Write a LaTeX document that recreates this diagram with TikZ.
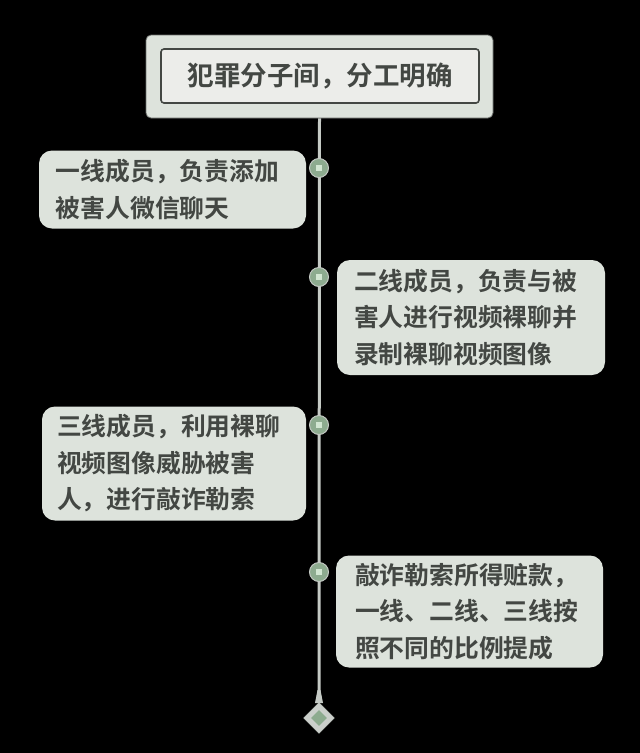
\documentclass[tikz,border=0pt]{standalone}
\usepackage{fontspec}
\newfontfamily\cjk{Noto Sans CJK SC}[BoldFont={* Bold}]
\usetikzlibrary{shapes.geometric}
\definecolor{boxfill}{HTML}{DDE3DC}
\definecolor{innerfill}{HTML}{ECEDEA}
\definecolor{txt}{HTML}{434743}
\definecolor{linec}{HTML}{C5CAC5}
\definecolor{dotc}{HTML}{8DAB8F}
\definecolor{dotin}{HTML}{D2E6D2}
\tikzset{
  stepbox/.style={fill=boxfill, draw=none, rounded corners=13pt, inner xsep=17pt, inner ysep=0pt,
    align=left, text=txt, font=\cjk\bfseries\fontsize{24.8}{36.5}\selectfont, anchor=center},
  dotnode/.style={circle, fill=dotc, draw=linec, line width=1pt, minimum size=19pt, inner sep=0pt},
  dotinner/.style={rectangle, fill=dotin, minimum size=6pt, inner sep=0pt},
}
\begin{document}
\begin{tikzpicture}[x=1pt,y=-1pt]
\fill[black] (0,0) rectangle (640,753);
\useasboundingbox (0,0) rectangle (640,753);
% title
\node[fill=boxfill, draw=txt!80, line width=0.8pt, rounded corners=5pt, minimum width=347pt, minimum height=83pt, inner sep=0pt] (title) at (319.5,76.5) {};
\node[fill=innerfill, draw=txt, line width=1.6pt, rounded corners=3pt, minimum width=318pt, minimum height=54pt, inner sep=0pt,
  text=txt, font=\cjk\bfseries\fontsize{26.5}{30}\selectfont] (titlein) at (320,76) {犯罪分子间，分工明确};
% vertical line
\coordinate (taper) at (319,692);
\draw[linec, line width=3pt] (title.south) -- (taper);
\fill[linec] (317.5,690) -- (320.5,690) -- (323,703) -- (315,703) -- cycle;
% diamond end
\node[diamond, fill=linec!90!white, draw=linec, minimum size=31pt, inner sep=0pt] (enddia) at (319,718) {};
\node[diamond, fill=dotc, minimum size=16pt, inner sep=0pt] (enddiain) at (319,718) {};
% dots
\foreach \n/\y in {d1/168, d2/277, d3/425, d4/572}{
  \node[dotnode] (\n) at (319,\y) {};
  \node[dotinner] (\n in) at (319,\y) {};
}
% boxes
\node[stepbox, text width=233pt, minimum height=78pt] (b1) at (172.5,189.5) {一线成员，负责添加\\被害人微信聊天};
\node[stepbox, text width=234pt, minimum height=115pt] (b2) at (471,317.5) {二线成员，负责与被\\害人进行视频裸聊并\\录制裸聊视频图像};
\node[stepbox, inner xsep=15pt, text width=234pt, minimum height=114pt] (b3) at (174,463.5) {三线成员，利用裸聊\\视频图像威胁被害\\人，进行敲诈勒索};
\node[stepbox, inner xsep=19pt, text width=229pt, minimum height=112pt] (b4) at (469.5,611.5) {敲诈勒索所得赃款，\\一线、二线、三线按\\照不同的比例提成};
\end{tikzpicture}
\end{document}
